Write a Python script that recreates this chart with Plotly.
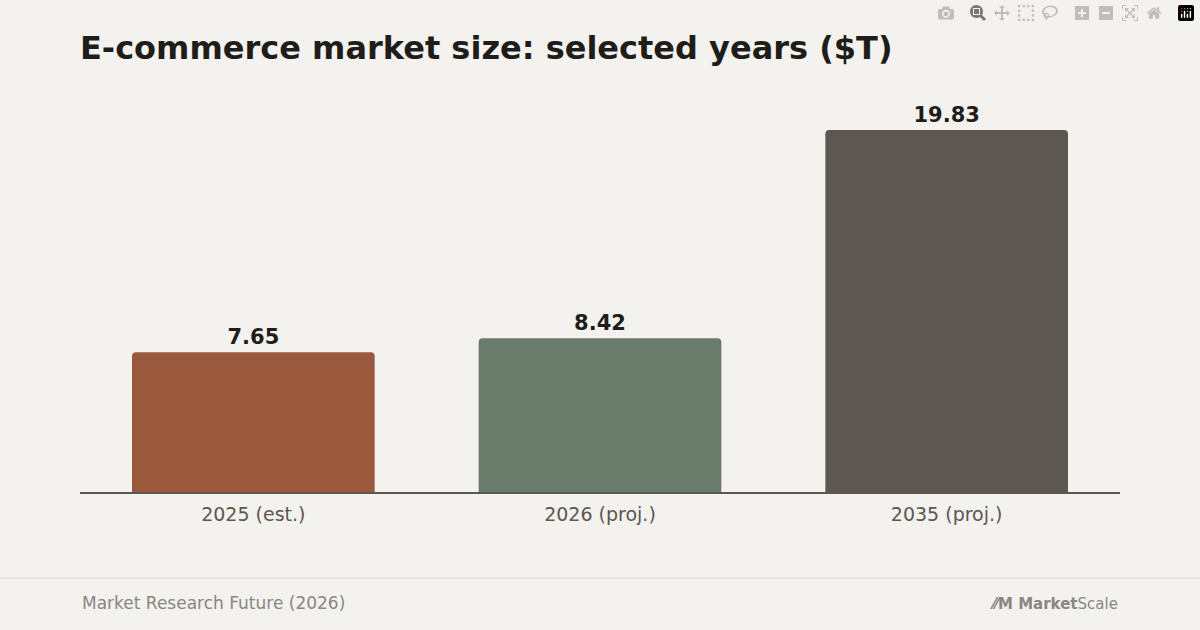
import plotly.graph_objects as go

# E-commerce market size, selected years ($T)
categories = ["2025 (est.)", "2026 (proj.)", "2035 (proj.)"]
values = [7.65, 8.42, 19.83]
bar_colors = ["#9a583d", "#6b7b6b", "#5c5750"]

BG = "#f4f2ee"
FONT = "DejaVu Sans"

fig = go.Figure(
    go.Bar(
        x=categories,
        y=values,
        marker=dict(color=bar_colors, line=dict(width=0)),
        text=[f"{v:.2f}" for v in values],
        textposition="outside",
        textfont=dict(family=FONT, size=21, color="#1f1d1a"),
        texttemplate="<b>%{text}</b>",
        cliponaxis=False,
    )
)

fig.update_layout(
    width=1200,
    height=630,
    paper_bgcolor=BG,
    plot_bgcolor=BG,
    margin=dict(l=80, r=80, t=95, b=138),
    bargap=0.3,
    barcornerradius=4,
    showlegend=False,
    font=dict(family=FONT),
    title=dict(
        text="<b>E-commerce market size: selected years ($T)</b>",
        x=80 / 1200,
        xanchor="left",
        y=1 - 48 / 630,
        yanchor="middle",
        font=dict(family=FONT, size=32, color="#1f1d1a"),
    ),
    xaxis=dict(
        showgrid=False,
        showline=True,
        linecolor="#5c5750",
        linewidth=1.5,
        ticks="",
        ticklabelstandoff=4,
        tickfont=dict(family=FONT, size=19, color="#5c5750"),
    ),
    yaxis=dict(visible=False, range=[0, 21.74]),
    shapes=[
        dict(type="line", xref="paper", yref="paper", x0=-80 / 1040, x1=1120 / 1040,
             y0=-86 / 397, y1=-86 / 397, line=dict(color="#e4e1dc", width=1.5)),
    ],
    annotations=[
        dict(text="Market Research Future (2026)", xref="paper", yref="paper",
             x=0, y=-111 / 397, xanchor="left", yanchor="middle", showarrow=False,
             font=dict(family=FONT, size=17, color="#8a8681")),
        dict(text="<b>⁄⁄M Market</b>Scale", xref="paper", yref="paper",
             x=1, y=-112 / 397, xanchor="right", yanchor="middle", showarrow=False,
             font=dict(family=FONT, size=15, color="#8a8681")),
    ],
)

fig.write_html("out.html", post_script="document.body.style.margin='0';")
